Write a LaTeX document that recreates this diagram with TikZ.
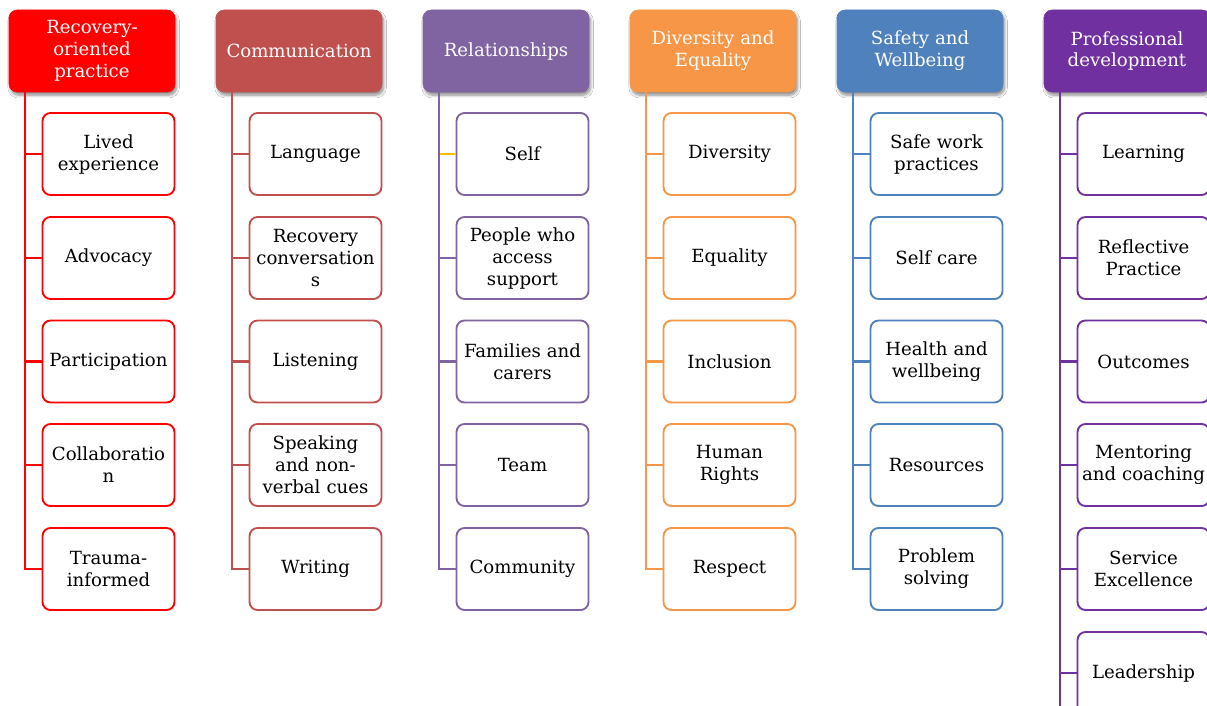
\documentclass[tikz,border=0pt]{standalone}
\usepackage{fontspec}
\setmainfont{DejaVu Serif}
\usetikzlibrary{shadows.blur,calc}
\definecolor{cA}{HTML}{FF0000}
\definecolor{cB}{HTML}{C0504D}
\definecolor{cC}{HTML}{8064A2}
\definecolor{cD}{HTML}{F79646}
\definecolor{cE}{HTML}{4F81BD}
\definecolor{cF}{HTML}{7030A0}
\definecolor{tickY}{HTML}{FFC000}
\tikzset{
  hdr/.style={fill=#1, draw=#1, rounded corners=6pt, minimum width=124.5pt, minimum height=61.5pt,
    text width=122pt, align=center, text=white, inner sep=0pt,
    font=\fontsize{13.6}{16.4}\selectfont,
    blur shadow={shadow xshift=1.2pt, shadow yshift=-2.4pt, shadow blur steps=8, shadow opacity=45}},
  kid/.style={fill=white, draw=#1, line width=1.4pt, rounded corners=6pt, minimum width=99pt, minimum height=61.5pt,
    text width=98pt, align=center, text=black, inner sep=0pt,
    font=\fontsize{13.6}{16.5}\selectfont},
  trunk/.style={draw=#1, line width=1.8pt}
}
\begin{document}
\begin{tikzpicture}[x=0.75pt,y=-0.75pt]
\useasboundingbox (0,0) rectangle (1207,706);
\clip (0,0) rectangle (1207,706);
\fill[white] (0,0) rectangle (1207,706);
% column 1
\node[hdr=cA] (h1) at (92,51) {Recovery-\\oriented\\practice};
\coordinate (t1) at (25,92);
\node[kid=cA] (a1) at (108.5,154) {Lived\\experience};
\node[kid=cA] (a2) at (108.5,258) {Advocacy};
\node[kid=cA] (a3) at (108.5,361.5) {Participation};
\node[kid=cA] (a4) at (108.5,465) {Collaboratio\\n};
\node[kid=cA] (a5) at (108.5,569) {Trauma-\\informed};
\draw[trunk=cA] (t1) |- (a5.west);
\foreach \n in {a1,a2,a3,a4} \draw[trunk=cA] (\n.west) -- (\n.west -| t1);
% column 2
\node[hdr=cB] (h2) at (299,51) {Communication};
\coordinate (t2) at (232,92);
\node[kid=cB] (b1) at (315.5,154) {Language};
\node[kid=cB] (b2) at (315.5,258) {Recovery\\conversation\\s};
\node[kid=cB] (b3) at (315.5,361.5) {Listening};
\node[kid=cB] (b4) at (315.5,465) {Speaking\\and non-\\verbal cues};
\node[kid=cB] (b5) at (315.5,569) {Writing};
\draw[trunk=cB] (t2) |- (b5.west);
\foreach \n in {b1,b2,b3,b4} \draw[trunk=cB] (\n.west) -- (\n.west -| t2);
% column 3
\node[hdr=cC] (h3) at (506,51) {Relationships};
\coordinate (t3) at (439,92);
\node[kid=cC] (c1) at (522.5,154) {Self};
\node[kid=cC] (c2) at (522.5,258) {People who\\access\\support};
\node[kid=cC] (c3) at (522.5,361.5) {Families and\\carers};
\node[kid=cC] (c4) at (522.5,465) {Team};
\node[kid=cC] (c5) at (522.5,569) {Community};
\draw[trunk=cC] (t3) |- (c5.west);
\foreach \n in {c2,c3,c4} \draw[trunk=cC] (\n.west) -- (\n.west -| t3);
\draw[trunk=tickY, line width=1.4pt] (c1.west) -- ([xshift=0.7pt]c1.west -| t3);
% column 4
\node[hdr=cD] (h4) at (713,51) {Diversity and\\Equality};
\coordinate (t4) at (646,92);
\node[kid=cD] (d1) at (729.5,154) {Diversity};
\node[kid=cD] (d2) at (729.5,258) {Equality};
\node[kid=cD] (d3) at (729.5,361.5) {Inclusion};
\node[kid=cD] (d4) at (729.5,465) {Human\\Rights};
\node[kid=cD] (d5) at (729.5,569) {Respect};
\draw[trunk=cD] (t4) |- (d5.west);
\foreach \n in {d1,d2,d3,d4} \draw[trunk=cD] (\n.west) -- (\n.west -| t4);
% column 5
\node[hdr=cE] (h5) at (920,51) {Safety and\\Wellbeing};
\coordinate (t5) at (853,92);
\node[kid=cE] (e1) at (936.5,154) {Safe work\\practices};
\node[kid=cE] (e2) at (936.5,258) {Self care};
\node[kid=cE] (e3) at (936.5,361.5) {Health and\\wellbeing};
\node[kid=cE] (e4) at (936.5,465) {Resources};
\node[kid=cE] (e5) at (936.5,569) {Problem\\solving};
\draw[trunk=cE] (t5) |- (e5.west);
\foreach \n in {e1,e2,e3,e4} \draw[trunk=cE] (\n.west) -- (\n.west -| t5);
% column 6
\node[hdr=cF] (h6) at (1127,51) {Professional\\development};
\coordinate (t6) at (1060,92);
\node[kid=cF] (f1) at (1143.5,154) {Learning};
\node[kid=cF] (f2) at (1143.5,258) {Reflective\\Practice};
\node[kid=cF] (f3) at (1143.5,361.5) {Outcomes};
\node[kid=cF] (f4) at (1143.5,465) {Mentoring\\and coaching};
\node[kid=cF] (f5) at (1143.5,569) {Service\\Excellence};
\node[kid=cF] (f6) at (1143.5,673) {Leadership};
\draw[trunk=cF] (t6) -- (t6 |- f6.south);
\foreach \n in {f1,f2,f3,f4,f5,f6} \draw[trunk=cF] (\n.west) -- (\n.west -| t6);
\end{tikzpicture}
\end{document}
